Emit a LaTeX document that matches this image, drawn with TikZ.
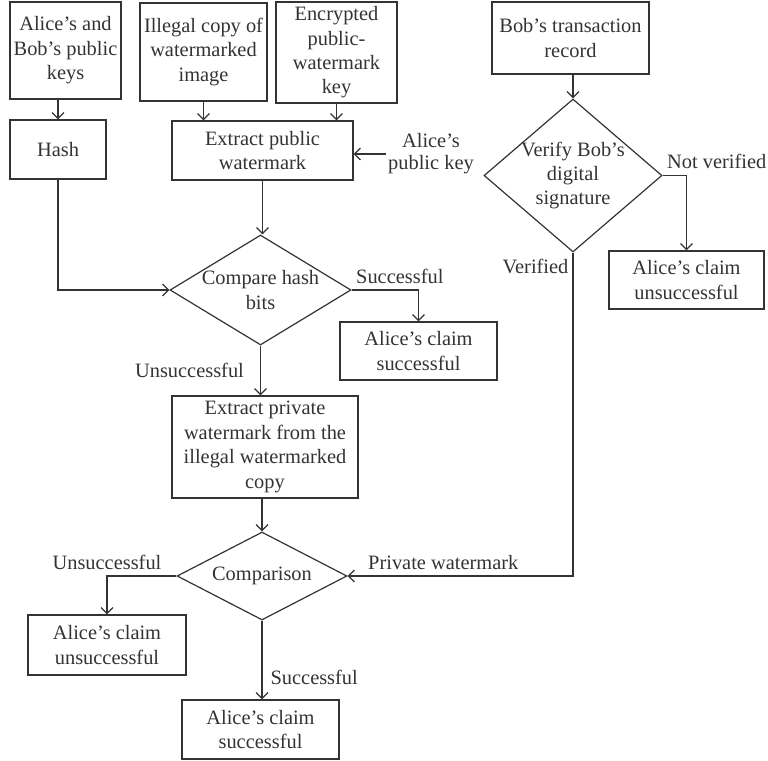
\documentclass[tikz,border=0pt]{standalone}
\usepackage{fontspec}
\setmainfont{Liberation Serif}
\usepackage{tikz}
\usetikzlibrary{arrows.meta,shapes.geometric}
\definecolor{ink}{HTML}{333333}
\tikzset{
  box/.style={draw=ink, line width=0.6pt, align=center, inner sep=1.5pt},
  decision/.style={diamond, draw=ink, line width=0.6pt, align=center, inner sep=-1pt},
  lbl/.style={inner xsep=2pt, inner ysep=3pt},
  arr/.style={draw=ink, line width=0.6pt, -{Straight Barb[length=3pt,width=6pt]}},
}
\begin{document}
\begin{tikzpicture}[x=0.5pt, y=-0.5pt, text=ink, font=\fontsize{10.2}{12.2}\selectfont]
  \useasboundingbox (0,0) rectangle (768,761);
  % inputs along the top
  \node[box, minimum width=55.5pt, minimum height=48.5pt] (keys) at (65.5,50.5) {Alice’s and\\Bob’s public\\keys};
  \node[box, minimum width=48pt, minimum height=29.5pt] (hash) at (58,149.5) {Hash};
  \node[box, minimum width=63.5pt, minimum height=49pt] (illegal) at (203.5,52) {Illegal copy of\\watermarked\\image};
  \node[box, minimum width=60.5pt, minimum height=50.5pt] (enc) at (336.5,52.5) {Encrypted\\public-\\watermark\\key};
  \node[box, minimum width=90.5pt, minimum height=29.5pt] (extpub) at (262.5,150.5) {Extract public\\watermark};
  \node[align=center, inner sep=1pt, font=\fontsize{10.2}{11}\selectfont] (pubkey) at (431,154) {Alice’s\\public key};
  % left branch
  \node[decision, shape aspect=1.65, minimum width=90.5pt, minimum height=55pt] (cmphash) at (260.5,290) {Compare hash\\bits};
  \node[box, minimum width=78.5pt, minimum height=29pt] (succ1) at (418.5,351) {Alice’s claim\\successful};
  \node[box, minimum width=93pt, minimum height=51pt] (extpriv) at (265,447) {Extract private\\watermark from the\\illegal watermarked\\copy};
  \node[decision, shape aspect=1.93, minimum width=85pt, minimum height=44pt] (cmp) at (262,576) {Comparison};
  \node[box, minimum width=79pt, minimum height=30pt] (unsucc2) at (107,645) {Alice’s claim\\unsuccessful};
  \node[box, minimum width=78.5pt, minimum height=29.5pt] (succ2) at (260.5,729.5) {Alice’s claim\\successful};
  % right branch
  \node[box, minimum width=78.5pt, minimum height=36pt] (bobrec) at (570.5,38) {Bob’s transaction\\record};
  \node[decision, shape aspect=1.16, minimum width=89pt, minimum height=76.5pt] (verify) at (573,175.5) {Verify Bob’s\\digital\\signature};
  \node[box, minimum width=77.5pt, minimum height=29pt] (notver) at (686.5,280) {Alice’s claim\\unsuccessful};

  \draw[arr] (keys.south -| hash.north) -- (hash.north);
  \draw[arr] (illegal.south) -- (illegal.south |- extpub.north);
  \draw[arr] (enc.south) -- (enc.south |- extpub.north);
  \draw[arr] (pubkey.west) -- (pubkey.west -| extpub.east);
  \draw[arr] (extpub.south) -- (extpub.south |- cmphash.north);
  \draw[arr] (hash.south) |- (cmphash.west);
  \draw[arr] (cmphash.east) -| node[lbl, above right, pos=0] {Successful} (succ1.north);
  \draw[arr] (cmphash.south) -- node[lbl, left=6pt] {Unsuccessful} (cmphash.south |- extpriv.north);
  \draw[arr] (extpriv.south -| cmp.north) -- (cmp.north);
  \draw[arr] (cmp.west) -| node[lbl, above, pos=0.5] {Unsuccessful} (unsucc2.north);
  \draw[arr] (cmp.south) -- node[lbl, right=2pt, pos=0.72] {Successful} (cmp.south |- succ2.north);
  \draw[arr] (bobrec.south -| verify.north) -- (verify.north);
  \draw[arr] (verify.east) -| node[lbl, above right, pos=0] {Not verified} (notver.north);
  \draw[arr] (verify.south) |- node[lbl, below left, pos=0] {Verified}
    node[lbl, above right, pos=1, xshift=8pt] {Private watermark} (cmp.east);
\end{tikzpicture}
\end{document}
